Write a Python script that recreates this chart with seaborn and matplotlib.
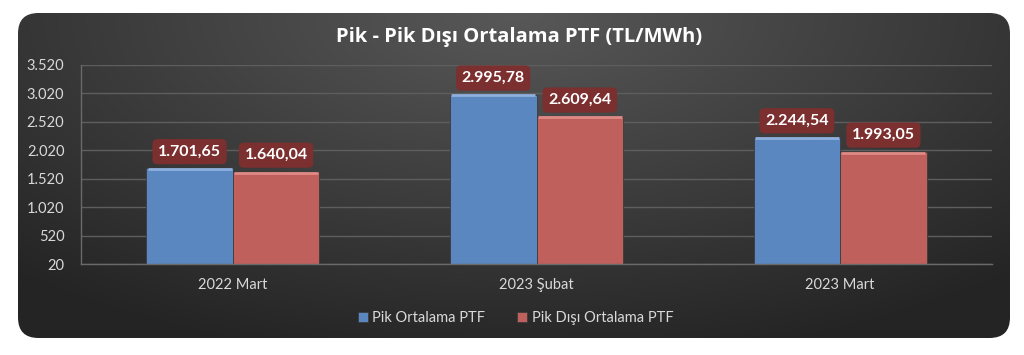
import numpy as np
import pandas as pd
import matplotlib
matplotlib.use("Agg")
import matplotlib.pyplot as plt
from matplotlib.patches import FancyBboxPatch
import seaborn as sns

categories = ["2022 Mart", "2023 Şubat", "2023 Mart"]
pik = [1701.65, 2995.78, 2244.54]
pik_disi = [1640.04, 2609.64, 1993.05]
series_names = ["Pik Ortalama PTF", "Pik Dışı Ortalama PTF"]
y_ticks = [20, 520, 1020, 1520, 2020, 2520, 3020, 3520]
title = "Pik - Pik Dışı Ortalama PTF (TL/MWh)"

def fmt_tr(v, dec=2):
    s = f"{v:,.{dec}f}"
    return s.replace(",", "X").replace(".", ",").replace("X", ".")

df = pd.DataFrame({
    "Dönem": categories * 2,
    "Seri": [series_names[0]] * 3 + [series_names[1]] * 3,
    "Değer": pik + pik_disi,
})

sns.set_theme(style="white")
plt.rcParams["font.family"] = ["Lato", "DejaVu Sans"]

fig = plt.figure(figsize=(10.24, 3.55), dpi=100)
fig.patch.set_facecolor("white")

# background rounded panel with radial gradient
bg = fig.add_axes([0, 0, 1, 1], zorder=-5)
bg.set_xlim(0, 1); bg.set_ylim(0, 1); bg.axis("off")
nx, ny = 400, 200
xx, yy = np.meshgrid(np.linspace(0, 1, nx), np.linspace(0, 1, ny))
d = np.sqrt(((xx - 0.5) / 0.75) ** 2 + ((yy - 1.0) / 1.1) ** 2)
d = np.clip(d, 0, 1)
c0 = np.array([0x58, 0x58, 0x58]) / 255
c1 = np.array([0x24, 0x24, 0x24]) / 255
img = c0[None, None, :] * (1 - d[..., None]) + c1[None, None, :] * d[..., None]
x0, x1 = 18 / 1024, 1010 / 1024
y0, y1 = 1 - 338 / 355, 1 - 13 / 355
im = bg.imshow(img, extent=[x0, x1, y0, y1], origin="lower", aspect="auto",
               transform=bg.transAxes)
panel = FancyBboxPatch((x0, y0), x1 - x0, y1 - y0,
                       boxstyle="round,pad=0,rounding_size=0.02",
                       transform=bg.transAxes, facecolor="none", edgecolor="none",
                       mutation_aspect=1024 / 355)
bg.add_patch(panel)
im.set_clip_path(panel)

ax = fig.add_axes([81 / 1024, 1 - 264 / 355, (992 - 81) / 1024, (264 - 65) / 355])
ax.set_facecolor("none")

palette = ["#5b87c1", "#c0605c"]
sns.barplot(data=df, x="Dönem", y="Değer", hue="Seri", palette=palette,
            width=0.57, gap=0, saturation=1, ax=ax, legend=True,
            edgecolor="#3c3c3c", linewidth=0.6)

ax.set_ylim(20, 3520)
ax.set_xlim(-0.5, 2.5)
ax.set_yticks(y_ticks)
ax.set_yticklabels([fmt_tr(v, 0) for v in y_ticks])
ax.set_xlabel(""); ax.set_ylabel("")
ax.grid(axis="y", color="#5e5e5e", linewidth=1)
ax.set_axisbelow(True)
for s in ["top", "right"]:
    ax.spines[s].set_visible(False)
for s in ["left", "bottom"]:
    ax.spines[s].set_color("#6a6a6a")
    ax.spines[s].set_linewidth(1)
ax.tick_params(axis="both", colors="#d9d9d9", labelsize=10.5, length=0, pad=10)
ax.tick_params(axis="y", length=4, color="#6a6a6a", pad=8)

# bevel highlight (lighter top edge) and value labels
light = {0: "#8fb0de", 1: "#e08a85"}
for i, container in enumerate(ax.containers):
    for bar in container:
        h = bar.get_height()
        xb = bar.get_x() + bar.get_width() / 2
        ax.plot([bar.get_x() + 0.004, bar.get_x() + bar.get_width() - 0.004], [h - 12, h - 12],
                color=light[i], linewidth=2, solid_capstyle="butt", zorder=3)
        ax.annotate(fmt_tr(h), (xb, h), xytext=(0, 7), textcoords="offset points",
                    ha="center", va="bottom", color="white", fontsize=11.5,
                    fontweight="bold",
                    bbox=dict(boxstyle="round,pad=0.35,rounding_size=0.3",
                              facecolor="#7b2f2e", edgecolor="none"))

leg = ax.legend(loc="upper center", bbox_to_anchor=(0.477, -0.17), ncol=2,
                frameon=False, fontsize=10.5, handlelength=0.7, handleheight=0.7,
                handletextpad=0.3, columnspacing=2.2)
for t in leg.get_texts():
    t.set_color("#d9d9d9")

fig.text(519 / 1024, 1 - 37 / 355, title, ha="center", va="center",
         color="white", fontsize=14.5, fontweight="bold",
         family=["Open Sans", "DejaVu Sans"])

fig.savefig("out.png", dpi=100, facecolor=fig.get_facecolor())
